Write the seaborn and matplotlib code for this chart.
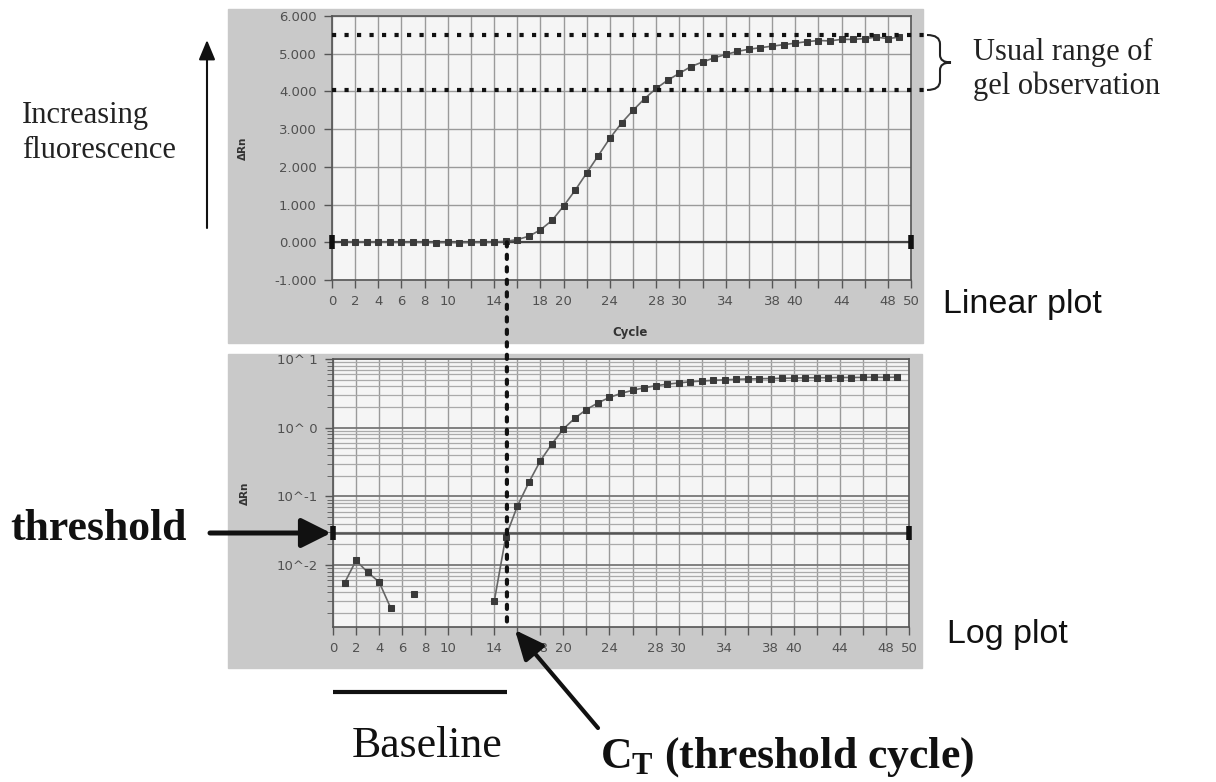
"""
Real-time PCR amplification plot: linear and log views of delta Rn,
with the threshold, C_T and gel-observation range annotated.
"""
import matplotlib
matplotlib.use("Agg")
import matplotlib.pyplot as plt
import matplotlib.transforms as mtransforms
from matplotlib.patches import ConnectionPatch, FancyArrowPatch, PathPatch, Rectangle
from matplotlib.path import Path
from matplotlib.ticker import LogLocator, NullFormatter
import numpy as np
import pandas as pd
import seaborn as sns

# ---- data -------------------------------------------------------------
cycles = list(range(1, 50))
delta_rn = [
    0.0055, 0.0117, 0.0079, 0.0057, 0.0024, -0.0030, 0.0038, -0.0040, -0.0060, -0.0050,
    -0.0070, -0.0040, -0.0020, 0.0030, 0.026, 0.072, 0.16, 0.33, 0.58, 0.96,
    1.38, 1.84, 2.30, 2.76, 3.16, 3.50, 3.81, 4.08, 4.30, 4.48,
    4.66, 4.78, 4.89, 4.98, 5.06, 5.12, 5.16, 5.20, 5.24, 5.28,
    5.32, 5.35, 5.34, 5.38, 5.38, 5.40, 5.44, 5.40, 5.44,
]
threshold = 0.029
ct = 15.1
gel_range = [4.05, 5.5]

x_ticks = list(range(0, 51, 2))
x_tick_labels = ["0", "2", "4", "6", "8", "10", "", "14", "", "18", "20", "", "24",
                 "", "28", "30", "", "34", "", "38", "40", "", "44", "", "48", "50"]
lin_ticks = [-1, 0, 1, 2, 3, 4, 5, 6]
lin_tick_labels = ["-1.000", "0.000", "1.000", "2.000", "3.000", "4.000", "5.000", "6.000"]
log_ticks = [1e-2, 1e-1, 1e0, 1e1]
log_tick_labels = ["10^-2", "10^-1", "10^ 0", "10^ 1"]
log_ylim = (10 ** -2.9, 10)

# ---- style ------------------------------------------------------------
W, H = 1216, 782
sns.set_style("ticks")
plt.rcParams["font.family"] = ["DejaVu Sans"]
plt.rcParams["mathtext.fontset"] = "custom"
plt.rcParams["mathtext.rm"] = "Liberation Serif"
plt.rcParams["mathtext.bf"] = "Liberation Serif:bold"

PANEL = "#c9c9c9"
FACE = "#f5f5f5"
GRID = "#9a9a9a"
INK = "#3a3a3a"
SERIF = "Liberation Serif"
SANS = "Liberation Sans"


def fx(px):
    return px / W


def fy(py):
    return 1 - py / H


def style_axes(ax):
    ax.set_facecolor(FACE)
    for s in ax.spines.values():
        s.set_color("#555555")
        s.set_linewidth(1.2)
    ax.set_xlim(0, 50)
    ax.set_xticks(x_ticks)
    ax.set_xticklabels(x_tick_labels)
    ax.tick_params(which="major", direction="out", length=6, width=1, color="#555555",
                   labelsize=9.5, labelcolor="#505050", pad=5)
    ax.grid(True, which="major", color=GRID, lw=1.0)


def fig_arrow(fig, x0, y0, x1, y1, lw, hl, hw):
    arr = FancyArrowPatch((fx(x0), fy(y0)), (fx(x1), fy(y1)), transform=fig.transFigure,
                          arrowstyle=f"-|>,head_length={hl},head_width={hw}",
                          mutation_scale=20, lw=lw, color="#111111",
                          shrinkA=0, shrinkB=0, zorder=5)
    fig.add_artist(arr)


df = pd.DataFrame({"cycle": cycles, "drn": delta_rn})
df_log = df[df["drn"] > 0].copy()
df_log["seg"] = (df_log["cycle"].diff() != 1).cumsum()

fig = plt.figure(figsize=(W / 100, H / 100), dpi=100)

# grey instrument panels behind the two plots
fig.add_artist(Rectangle((fx(228), fy(343)), fx(923) - fx(228), fy(9) - fy(343),
                         transform=fig.transFigure, color=PANEL, zorder=-5))
fig.add_artist(Rectangle((fx(228), fy(668)), fx(922) - fx(228), fy(354) - fy(668),
                         transform=fig.transFigure, color=PANEL, zorder=-5))

ax_lin = fig.add_axes([fx(332), fy(280), fx(911) - fx(332), fy(16) - fy(280)])
ax_log = fig.add_axes([fx(333), fy(627), fx(909) - fx(333), fy(359) - fy(627)])

# ---- linear plot --------------------------------------------------------
style_axes(ax_lin)
ax_lin.axhline(0, color="#444444", lw=1.6, zorder=2)
ax_lin.plot([0, 50], [0, 0], ls="none", marker="|", ms=10, mew=4, color="#111111",
            clip_on=False, zorder=4)
sns.lineplot(data=df, x="cycle", y="drn", ax=ax_lin, color="#666666", lw=1.2,
             marker="s", ms=4.5, mec=INK, mfc=INK, zorder=3)
for v in gel_range:
    ax_lin.plot([0, 1.028], [v, v], transform=ax_lin.get_yaxis_transform(),
                color="#111111", lw=3, ls=(0, (1, 2)), clip_on=False, zorder=4)
ax_lin.set_ylim(-1, 6)
ax_lin.set_yticks(lin_ticks)
ax_lin.set_yticklabels(lin_tick_labels)
ax_lin.set_xlabel("Cycle", fontsize=8.5, fontweight="bold", color="#333333")
ax_lin.xaxis.set_label_coords(0.515, -0.175)
ax_lin.set_ylabel("ΔRn", fontsize=7.5, fontweight="bold", color="#333333")
ax_lin.yaxis.set_label_coords(-0.145, 0.5)

# ---- log plot -----------------------------------------------------------
ax_log.set_yscale("log")
style_axes(ax_log)
ax_log.yaxis.set_minor_locator(LogLocator(base=10, subs=np.arange(2, 10)))
ax_log.yaxis.set_minor_formatter(NullFormatter())
ax_log.grid(True, which="minor", axis="y", color="#aaaaaa", lw=0.9)
ax_log.grid(True, which="major", axis="y", color="#777777", lw=1.3)
ax_log.tick_params(axis="y", which="minor", direction="out", length=4, color="#555555")
ax_log.axhline(threshold, color="#555555", lw=1.8, zorder=2)
ax_log.plot([0, 50], [threshold, threshold], ls="none", marker="|", ms=10, mew=4,
            color="#111111", clip_on=False, zorder=4)
sns.lineplot(data=df_log, x="cycle", y="drn", units="seg", estimator=None, ax=ax_log,
             color="#666666", lw=1.2, marker="s", ms=4.5, mec=INK, mfc=INK, zorder=3)
ax_log.set_ylim(*log_ylim)
ax_log.set_yticks(log_ticks)
ax_log.set_yticklabels(log_tick_labels)
ax_log.set_xlabel("")
ax_log.set_ylabel("ΔRn", fontsize=7.5, fontweight="bold", color="#333333")
ax_log.yaxis.set_label_coords(-0.144, 0.5)

# dotted C_T line running from the linear plot down through the log plot
con = ConnectionPatch(xyA=(ct, 0), coordsA=ax_lin.transData,
                      xyB=(ct, log_ylim[0]), coordsB=ax_log.transData,
                      color="#111111", lw=3, ls=(0, (1, 2)), zorder=6)
fig.add_artist(con)

# baseline bar under the log plot
blend = mtransforms.blended_transform_factory(ax_log.transData, ax_log.transAxes)
ax_log.plot([0, ct], [-0.243, -0.243], transform=blend, color="#111111", lw=3,
            clip_on=False, solid_capstyle="butt")

# ---- annotations --------------------------------------------------------
brace = Path(
    [(927, 35), (940, 35), (940, 44), (940, 55), (940, 62.5), (951, 62.5),
     (940, 62.5), (940, 70), (940, 81), (940, 90), (927, 90)],
    [Path.MOVETO, Path.CURVE3, Path.CURVE3, Path.LINETO, Path.CURVE3, Path.CURVE3,
     Path.CURVE3, Path.CURVE3, Path.LINETO, Path.CURVE3, Path.CURVE3],
)
brace = Path(np.column_stack([[fx(x) for x, _ in brace.vertices],
                              [fy(y) for _, y in brace.vertices]]), brace.codes)
fig.add_artist(PathPatch(brace, transform=fig.transFigure, fill=False,
                         lw=1.5, color="#222222"))

fig.text(fx(973), fy(69), "Usual range of\ngel observation", family=SERIF, fontsize=22,
         va="center", ha="left", linespacing=1.2, color="#222222")
fig.text(fx(22), fy(133), "Increasing\nfluorescence", family=SERIF, fontsize=22,
         va="center", ha="left", linespacing=1.3, color="#222222")
fig_arrow(fig, 207, 228, 207, 40, lw=1.5, hl=0.6, hw=0.25)

fig.text(fx(943), fy(313), "Linear plot", family=SANS, fontsize=24.5, va="baseline",
         color="#111111")
fig.text(fx(947), fy(643), "Log plot", family=SANS, fontsize=24.5, va="baseline",
         color="#111111")

fig.text(fx(10), fy(540), "threshold", family=SERIF, fontsize=31.5, fontweight="bold",
         va="baseline", color="#111111")
fig_arrow(fig, 210, 533, 331, 533, lw=3.6, hl=0.9, hw=0.45)

fig.text(fx(427), fy(757), "Baseline", family=SERIF, fontsize=31.5, ha="center",
         va="baseline", color="#111111")
fig.text(fx(600), fy(768), r"$\mathbf{C_T}$ (threshold cycle)", family=SERIF,
         fontsize=31.5, fontweight="bold", va="baseline", color="#111111")
fig_arrow(fig, 598, 728, 515, 630, lw=3, hl=0.9, hw=0.4)

fig.savefig("out.png", dpi=100, facecolor="white")
plt.close(fig)
